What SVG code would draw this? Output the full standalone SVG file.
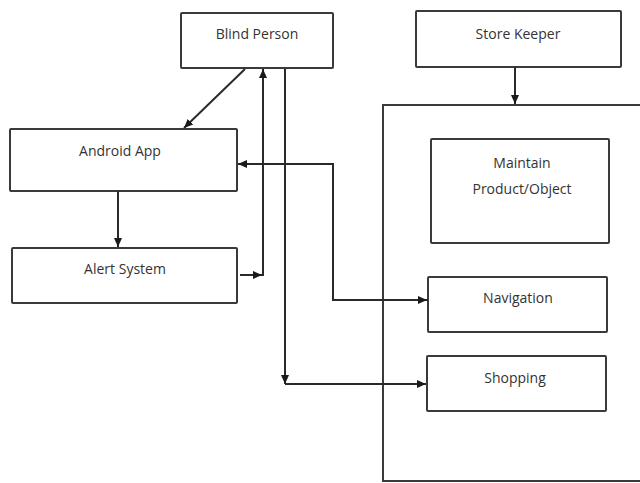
<svg xmlns="http://www.w3.org/2000/svg" width="640" height="483" viewBox="0 0 640 483">
  <style>
    .box { fill: #ffffff; stroke: #3a3a3a; stroke-width: 2; }
    .lbl { font-family: "Open Sans", "Liberation Sans", sans-serif; font-size: 14px; fill: #333333; text-anchor: middle; dominant-baseline: central; }
    .wire { fill: none; stroke: #2a2a2a; stroke-width: 2; }
  </style>
  <defs>
    <marker id="arr" markerWidth="10" markerHeight="10" refX="9" refY="5" orient="auto" markerUnits="userSpaceOnUse">
      <path d="M0,1 L9,5 L0,9 Z" fill="#1a1a1a"/>
    </marker>
  </defs>
  <rect width="640" height="483" fill="#ffffff"/>

  <!-- store area container -->
  <g id="store-area">
    <rect class="box" x="383" y="105" width="262" height="376"/>
  </g>

  <g id="blind-person">
    <rect class="box" x="181" y="13" width="152" height="55" rx="1"/>
    <text class="lbl" x="257" y="33">Blind Person</text>
  </g>

  <g id="store-keeper">
    <rect class="box" x="416" y="11" width="205" height="56" rx="1"/>
    <text class="lbl" x="518" y="33">Store Keeper</text>
  </g>

  <g id="android-app">
    <rect class="box" x="10" y="129" width="227" height="62" rx="1"/>
    <text class="lbl" x="120" y="150">Android App</text>
  </g>

  <g id="alert-system">
    <rect class="box" x="12" y="248" width="225" height="55" rx="1"/>
    <text class="lbl" x="125" y="268">Alert System</text>
  </g>

  <g id="maintain">
    <rect class="box" x="431" y="139" width="178" height="104" rx="1"/>
    <text class="lbl" x="522" y="162">Maintain</text>
    <text class="lbl" x="522" y="188">Product/Object</text>
  </g>

  <g id="navigation">
    <rect class="box" x="428" y="277" width="179" height="55" rx="1"/>
    <text class="lbl" x="518" y="297">Navigation</text>
  </g>

  <g id="shopping">
    <rect class="box" x="427" y="356" width="179" height="55" rx="1"/>
    <text class="lbl" x="515" y="377">Shopping</text>
  </g>

  <g id="connectors">
    <!-- Blind Person to Android App -->
    <line class="wire" x1="245" y1="69" x2="184" y2="128" marker-end="url(#arr)"/>
    <!-- Android App to Alert System -->
    <line class="wire" x1="118" y1="191" x2="118" y2="247" marker-end="url(#arr)"/>
    <!-- Alert System back up to Blind Person -->
    <line class="wire" x1="240" y1="275" x2="262" y2="275" marker-end="url(#arr)"/>
    <line class="wire" x1="263" y1="276" x2="263" y2="69" marker-end="url(#arr)"/>
    <!-- Navigation to Android App -->
    <polyline class="wire" points="428,300 333,300 333,164 238,164" marker-end="url(#arr)"/>
    <line class="wire" x1="333" y1="300" x2="427" y2="300" marker-end="url(#arr)"/>
    <!-- Blind Person down to Shopping -->
    <line class="wire" x1="285" y1="69" x2="285" y2="384" marker-end="url(#arr)"/>
    <line class="wire" x1="285" y1="384" x2="426" y2="384" marker-end="url(#arr)"/>
    <!-- Store Keeper to store area -->
    <line class="wire" x1="515" y1="67" x2="515" y2="104" marker-end="url(#arr)"/>
  </g>
</svg>
